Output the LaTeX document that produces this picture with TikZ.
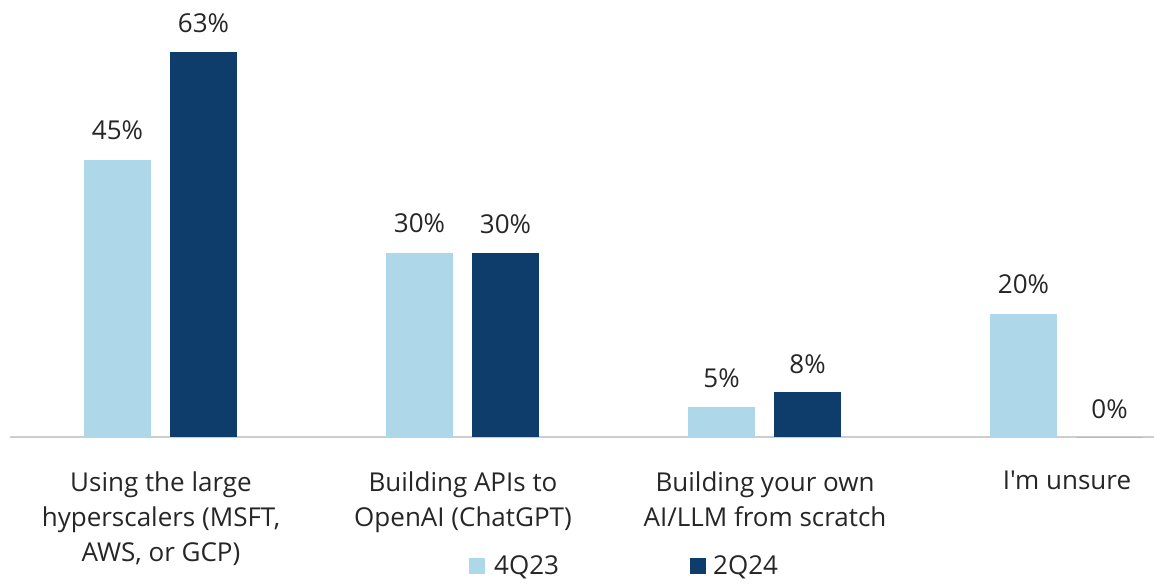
\documentclass[tikz,border=0pt]{standalone}
\usepackage{fontspec}
\setmainfont{Open Sans}[Ligatures=TeXOff]
\usetikzlibrary{positioning}
\definecolor{mylight}{RGB}{174,216,234}
\definecolor{mydark}{RGB}{14,61,107}
\definecolor{myaxis}{RGB}{205,205,205}
\begin{document}
\begin{tikzpicture}[x=0.5pt, y=0.5pt,
	every node/.style={font=\fontsize{13}{17.5}\selectfont, text=black!85, inner sep=0pt},
	valuelabel/.style={anchor=base},
	catlabel/.style={anchor=north, align=center},
	legendbox/.style={minimum size=8pt, anchor=south west}]
			\useasboundingbox (0,-146) rectangle (1154,437);

			% Draw the axis line
			\coordinate (axisL) at (10,0);
			\coordinate (axisR) at (1154,0);
			\draw[myaxis, line width=1pt] (axisL) -- (axisR);

			% Draw the bars and their values (value/height pairs)
			\foreach \cx/\a/\ha/\b/\hb/\n in {161/45/277/63/385/1, 463/30/184/30/184/2, 765/5/30/8/45/3, 1067/20/123/0/0/4} {
				\fill[mylight] (\cx-77,0) rectangle (\cx-10,\ha);
				\fill[mydark] (\cx+9,0) rectangle (\cx+76,\hb);
				\node[valuelabel] (old\n) at (\cx-43.5,\ha+20) {\a\%};
				\node[valuelabel] (new\n) at (\cx+42.5,\hb+19) {\b\%};
			}

			% Label the categories
			\node[catlabel] (cat1) at (161,-34) {Using the large\\hyperscalers (MSFT,\\AWS, or GCP)};
			\node[catlabel] (cat2) at (463,-34) {Building APIs to\\OpenAI (ChatGPT)};
			\node[catlabel] (cat3) at (765,-34) {Building your own\\AI/LLM from scratch};
			\node[catlabel] (cat4) at (1067,-34) {I'm unsure};

			% Put the legend
			\node[legendbox, fill=mylight] (sq1) at (469,-137) {};
			\node[anchor=base west] (leg1) at ([xshift=4pt]sq1.south east) {4Q23};
			\node[legendbox, fill=mydark] (sq2) at (690,-137) {};
			\node[anchor=base west] (leg2) at ([xshift=3pt]sq2.south east) {2Q24};
		\end{tikzpicture}
\end{document}
